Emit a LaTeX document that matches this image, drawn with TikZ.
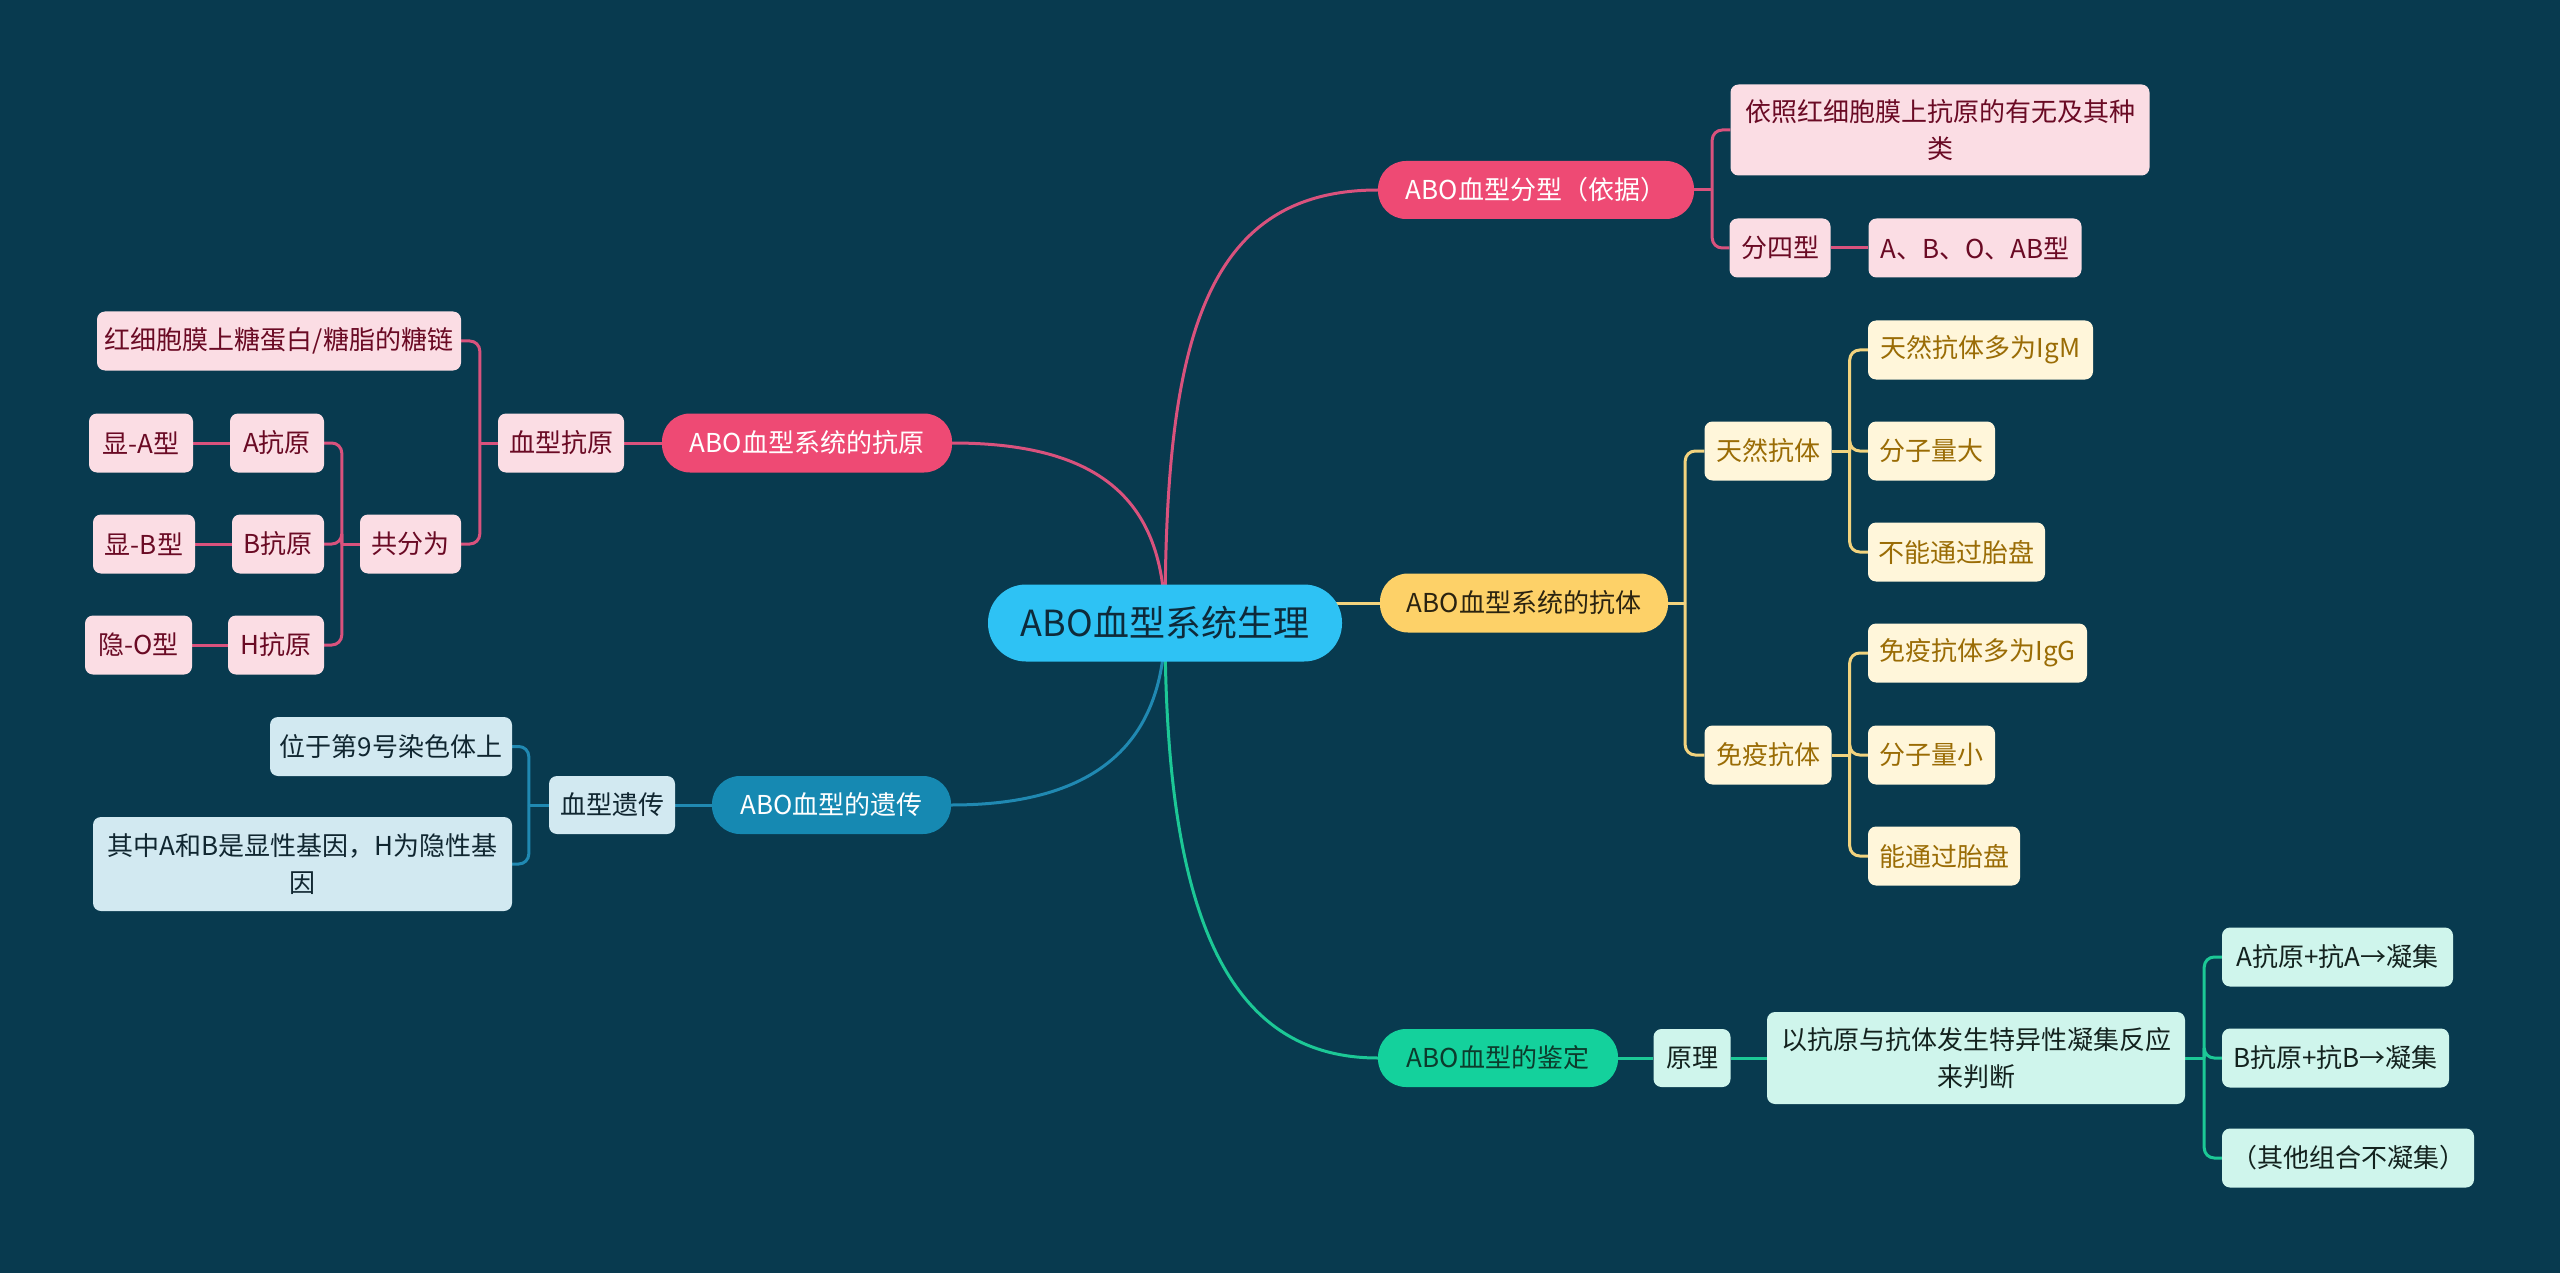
\documentclass[tikz,border=0pt]{standalone}
\usepackage{fontspec}
\setmainfont{Noto Sans CJK SC}
\usetikzlibrary{backgrounds}
\definecolor{bgc}{HTML}{083A4F}
\definecolor{rootc}{HTML}{2EC2F4}
\definecolor{roottxt}{HTML}{0E2A3A}
\definecolor{pkB}{HTML}{EE4A74}
\definecolor{pkL}{HTML}{FBDDE4}
\definecolor{pkT}{HTML}{6A0A24}
\definecolor{pkC}{HTML}{D9527D}
\definecolor{ylB}{HTML}{FDD168}
\definecolor{ylBT}{HTML}{2A2310}
\definecolor{ylL}{HTML}{FFF6DA}
\definecolor{ylT}{HTML}{9A6C05}
\definecolor{ylC}{HTML}{F2D37E}
\definecolor{blB}{HTML}{1689B2}
\definecolor{blL}{HTML}{D2E9F1}
\definecolor{blT}{HTML}{102630}
\definecolor{blC}{HTML}{2089B2}
\definecolor{grB}{HTML}{14D19C}
\definecolor{grBT}{HTML}{0C3B2C}
\definecolor{grL}{HTML}{CFF5EC}
\definecolor{grT}{HTML}{13221E}
\definecolor{grC}{HTML}{1CC896}
\begin{document}
\begin{tikzpicture}[x=1pt,y=-1pt,
  box/.style={rounded corners=8pt, inner sep=0pt, minimum height=59pt, align=center, font=\fontsize{26}{37}\selectfont},
  pill/.style={box, rounded corners=28pt, minimum height=58pt},
  pinkB/.style={pill, fill=pkB, text=white},
  pinkL/.style={box, fill=pkL, text=pkT},
  yelB/.style={pill, fill=ylB, text=ylBT},
  yelL/.style={box, fill=ylL, text=ylT},
  bluB/.style={pill, fill=blB, text=white},
  bluL/.style={box, fill=blL, text=blT},
  greB/.style={pill, fill=grB, text=grBT},
  greL/.style={box, fill=grL, text=grT},
  conn/.style={line width=3pt, rounded corners=10pt},
]
\useasboundingbox (0,0) rectangle (2560,1273);

% root
\node[box, rounded corners=38pt, minimum width=354pt, minimum height=77pt, fill=rootc, text=roottxt, font=\fontsize{36}{40}\selectfont] (root) at (1165,623) {ABO血型系统生理};

% branch 1 (pink, right)
\node[pinkB, minimum width=316pt] (b1) at (1536,190) {ABO血型分型（依据）};
\node[pinkL, minimum width=419pt, minimum height=91pt] (p1) at (1940,130) {依照红细胞膜上抗原的有无及其种\\类};
\node[pinkL, minimum width=101pt] (p2) at (1780,248) {分四型};
\node[pinkL, minimum width=213pt] (p3) at (1975,248) {A、B、O、AB型};

% branch 2 (yellow)
\node[yelB, minimum width=288pt, minimum height=59pt] (b2) at (1524,603) {ABO血型系统的抗体};
\node[yelL, minimum width=127pt] (y1) at (1768,451) {天然抗体};
\node[yelL, minimum width=127pt] (y2) at (1768,755) {免疫抗体};
\node[yelL, minimum width=225pt] (y11) at (1980.5,350) {天然抗体多为IgM};
\node[yelL, minimum width=127pt] (y12) at (1931.5,451) {分子量大};
\node[yelL, minimum width=177pt] (y13) at (1956.5,552) {不能通过胎盘};
\node[yelL, minimum width=219pt] (y21) at (1977.5,653) {免疫抗体多为IgG};
\node[yelL, minimum width=127pt] (y22) at (1931.5,755) {分子量小};
\node[yelL, minimum width=152pt] (y23) at (1944,856) {能通过胎盘};

% branch 4 (green)
\node[greB, minimum width=240pt] (b4) at (1498,1058) {ABO血型的鉴定};
\node[greL, minimum width=77pt, minimum height=58pt] (g1) at (1692,1058) {原理};
\node[greL, minimum width=418pt, minimum height=92pt] (g2) at (1976,1058) {以抗原与抗体发生特异性凝集反应\\来判断};
\node[greL, minimum width=231pt] (g31) at (2337.5,957) {A抗原+抗A→凝集};
\node[greL, minimum width=227pt] (g32) at (2335.5,1058) {B抗原+抗B→凝集};
\node[greL, minimum width=252pt] (g33) at (2348,1158) {（其他组合不凝集）};

% branch 3 (pink, left)
\node[pinkB, minimum width=290pt, minimum height=59pt] (b3) at (807,443) {ABO血型系统的抗原};
\node[pinkL, minimum width=126pt] (r1) at (561,443) {血型抗原};
\node[pinkL, minimum width=364pt] (r11) at (279,341) {红细胞膜上糖蛋白/糖脂的糖链};
\node[pinkL, minimum width=101pt] (r12) at (410.5,544) {共分为};
\node[pinkL, minimum width=94pt] (r121) at (277,443) {A抗原};
\node[pinkL, minimum width=92pt] (r122) at (278,544) {B抗原};
\node[pinkL, minimum width=96pt] (r123) at (276,645) {H抗原};
\node[pinkL, minimum width=104pt] (r1211) at (141,443) {显-A型};
\node[pinkL, minimum width=102pt] (r1221) at (144,544) {显-B型};
\node[pinkL, minimum width=107pt] (r1231) at (138.5,645) {隐-O型};

% branch 5 (blue, left)
\node[bluB, minimum width=239pt] (bb) at (831.5,805) {ABO血型的遗传};
\node[bluL, minimum width=126pt, minimum height=58pt] (u1) at (612,805) {血型遗传};
\node[bluL, minimum width=242pt] (u11) at (391,746.5) {位于第9号染色体上};
\node[bluL, minimum width=419pt, minimum height=94pt] (u12) at (302.5,864) {其中A和B是显性基因，H为隐性基\\因};

% junction points
\coordinate (jb1) at ([xshift=18pt]b1.east);
\coordinate (jb2) at ([xshift=17pt]b2.east);
\coordinate (jy1) at ([xshift=18pt]y1.east);
\coordinate (jy2) at ([xshift=18pt]y2.east);
\coordinate (jg2) at ([xshift=19pt]g2.east);
\coordinate (jr1) at ([xshift=-18pt]r1.west);
\coordinate (jr12) at ([xshift=-18pt]r12.west);
\coordinate (ju1) at ([xshift=-20pt]u1.west);

\begin{scope}[on background layer]
\fill[bgc] (0,0) rectangle (2560,1273);
% main connectors
\draw[conn, pkC] (root.center) .. controls (1165,350) and (1200,190) .. (b1.west);
\draw[conn, ylC] (root.center |- b2.west) -- (b2.west);
\draw[conn, grC] (root.center) .. controls (1165,900) and (1220,1058) .. (b4.west);
\draw[conn, pkC] (root.center) .. controls (1165,500) and (1100,443) .. (b3.east);
\draw[conn, blC] (root.center) .. controls (1165,740) and (1100,805) .. (bb.east);
% pink right
\draw[conn, pkC] (b1.east) -- (jb1);
\draw[conn, pkC] (jb1) |- (p1.west);
\draw[conn, pkC] (jb1) |- (p2.west);
\draw[conn, pkC] (p2.east) -- (p3.west);
% yellow
\draw[conn, ylC] (b2.east) -- (jb2);
\draw[conn, ylC] (jb2) |- (y1.west);
\draw[conn, ylC] (jb2) |- (y2.west);
\draw[conn, ylC] (y1.east) -- (jy1);
\foreach \c in {y11,y12,y13} \draw[conn, ylC] (jy1) |- (\c.west);
\draw[conn, ylC] (y2.east) -- (jy2);
\foreach \c in {y21,y22,y23} \draw[conn, ylC] (jy2) |- (\c.west);
% green
\draw[conn, grC] (b4.east) -- (g1.west);
\draw[conn, grC] (g1.east) -- (g2.west);
\draw[conn, grC] (g2.east) -- (jg2);
\foreach \c in {g31,g32,g33} \draw[conn, grC] (jg2) |- (\c.west);
% pink left
\draw[conn, pkC] (b3.west) -- (r1.east);
\draw[conn, pkC] (r1.west) -- (jr1);
\draw[conn, pkC] (jr1) |- (r11.east);
\draw[conn, pkC] (jr1) |- (r12.east);
\draw[conn, pkC] (r12.west) -- (jr12);
\foreach \c in {r121,r122,r123} \draw[conn, pkC] (jr12) |- (\c.east);
\draw[conn, pkC] (r121.west) -- (r1211.east);
\draw[conn, pkC] (r122.west) -- (r1221.east);
\draw[conn, pkC] (r123.west) -- (r1231.east);
% blue
\draw[conn, blC] (bb.west) -- (u1.east);
\draw[conn, blC] (u1.west) -- (ju1);
\draw[conn, blC] (ju1) |- (u11.east);
\draw[conn, blC] (ju1) |- (u12.east);
\end{scope}
\end{tikzpicture}
\end{document}
